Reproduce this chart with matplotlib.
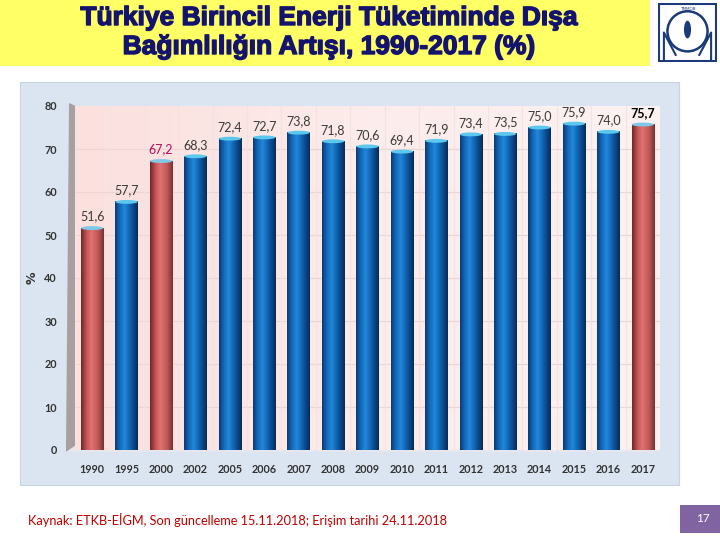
import numpy as np
import matplotlib.pyplot as plt
import matplotlib.patheffects as pe
from matplotlib.patches import Ellipse, Rectangle, Polygon, Circle
from matplotlib.colors import LinearSegmentedColormap

# data
years = ['1990', '1995', '2000', '2002', '2005', '2006', '2007', '2008', '2009',
         '2010', '2011', '2012', '2013', '2014', '2015', '2016', '2017']
values = [51.6, 57.7, 67.2, 68.3, 72.4, 72.7, 73.8, 71.8, 70.6, 69.4, 71.9,
          73.4, 73.5, 75.0, 75.9, 74.0, 75.7]
red_years = ['1990', '2000', '2017']
yticks = [0, 10, 20, 30, 40, 50, 60, 70, 80]

title = 'Türkiye Birincil Enerji Tüketiminde Dışa\nBağımlılığın Artışı, 1990-2017 (%)'
source = 'Kaynak: ETKB-EİGM, Son güncelleme 15.11.2018; Erişim tarihi 24.11.2018'
page = '17'

W, H = 720, 540


def fx(px):
    return px / W


def fy(py):
    return 1 - py / H


blue_cmap = LinearSegmentedColormap.from_list(
    'cyl_blue', [(0, '#0a3a74'), (0.2, '#1468b8'), (0.42, '#2088da'),
                 (0.7, '#0f5aa6'), (1, '#072c58')])
red_cmap = LinearSegmentedColormap.from_list(
    'cyl_red', [(0, '#6e2828'), (0.25, '#c85656'), (0.45, '#e07272'),
                (0.75, '#c05858'), (1, '#7a3030')])

fig = plt.figure(figsize=(7.2, 5.4), dpi=100)
fig.patch.set_facecolor('white')

# yellow title band
fig.patches.append(Rectangle((0, fy(66)), fx(650), 66 / H, transform=fig.transFigure,
                             facecolor='#ffff66', edgecolor='none', zorder=0))
for k, line in enumerate(title.split('\n')):
    fig.text(fx(329), fy(18 + 29 * k), line, ha='center', va='center', fontsize=19,
             fontweight='bold', color='#14146e', family='Liberation Sans',
             path_effects=[pe.withStroke(linewidth=1.0, foreground='#14146e')])

# chart panel
fig.patches.append(Rectangle((fx(20), fy(485)), fx(659), 403 / H, transform=fig.transFigure,
                             facecolor='#dbe5f1', edgecolor='#c8d4e4', lw=0.8, zorder=0))

# side wall of the 3D chart
fig.patches.append(Polygon([(fx(69), fy(103)), (fx(80), fy(108)), (fx(78), fy(444)),
                            (fx(66), fy(452))], closed=True, transform=fig.transFigure,
                           facecolor='#a8a0a0', edgecolor='none', zorder=1))

ax = fig.add_axes([fx(75), fy(450), fx(585), (450 - 106) / H])
ax.set_zorder(2)

n = len(years)
x = np.arange(n)
bw = 0.65

# pink back wall
wall = np.linspace(0, 1, 100).reshape(1, -1)
wall_cmap = LinearSegmentedColormap.from_list('wall', ['#fbe0de', '#fdeceb', '#fcf2f2'])
ax.imshow(wall, extent=[-0.5, n - 0.5, 0, 80], aspect='auto', cmap=wall_cmap, zorder=0)

for t in yticks[1:-1]:
    ax.axhline(t, color='#ecd6d4', lw=0.9, zorder=1)
for i in range(n):
    ax.axvline(i - 0.5, color='#f4e2e0', lw=0.8, zorder=1)

grad = np.linspace(0, 1, 64).reshape(1, -1)
for i, (yr, v) in enumerate(zip(years, values)):
    is_red = yr in red_years
    cmap = red_cmap if is_red else blue_cmap
    ax.imshow(grad, extent=[i - bw / 2, i + bw / 2, 0, v], aspect='auto',
              cmap=cmap, zorder=3)
    ax.add_patch(Ellipse((i, v), bw, 0.9, facecolor='#5cc8ee' if not is_red else '#7ec8e8',
                         edgecolor='none', zorder=4))
    ax.add_patch(Ellipse((i, 0), bw, 0.9, facecolor=cmap(0.5), edgecolor='none', zorder=2))
    if yr == '2000':
        col, fw = '#b0105a', 'normal'
    elif yr == '2017':
        col, fw = 'black', 'bold'
    else:
        col, fw = '#3a3a3a', 'normal'
    ax.text(i, v + 1.3, f'{v:.1f}'.replace('.', ','), ha='center', va='bottom',
            fontsize=9, color=col, fontweight=fw, family='Lato', zorder=5)

ax.set_xlim(-0.5, n - 0.5)
ax.set_ylim(0, 80)
ax.set_xticks(x)
ax.set_xticklabels(years, fontsize=7.8, fontweight='bold', color='#333333', family='Lato')
ax.set_yticks(yticks)
ax.set_yticklabels([str(t) for t in yticks], fontsize=7.8, fontweight='bold',
                   color='#333333', family='Lato')
ax.tick_params(axis='x', length=0, pad=10)
ax.tick_params(axis='y', length=0, pad=13)
for s in ax.spines.values():
    s.set_visible(False)
ax.set_ylabel('%', fontsize=9, fontweight='bold', color='#333333', labelpad=4)

# floor line
fig.patches.append(Polygon([(fx(66), fy(452)), (fx(78), fy(444)), (fx(662), fy(444)),
                            (fx(660), fy(452))], closed=True, transform=fig.transFigure,
                           facecolor='#e6e6ee', edgecolor='none', zorder=1))

# logo
lax = fig.add_axes([fx(658), fy(62), fx(59), 59 / H])
lax.set_xlim(0, 1)
lax.set_ylim(0, 1)
lax.axis('off')
lax.add_patch(Rectangle((0.02, 0.02), 0.96, 0.96, facecolor='white', edgecolor='#1a3a7a', lw=1.5))
lax.add_patch(Circle((0.5, 0.52), 0.34, facecolor='none', edgecolor='#1a3a7a', lw=1.8))
lax.add_patch(Ellipse((0.5, 0.55), 0.12, 0.3, facecolor='#1a3a7a', edgecolor='none'))
lax.plot([0.1, 0.1, 0.3], [0.05, 0.5, 0.12], color='#1a3a7a', lw=1.5)
lax.plot([0.9, 0.9, 0.7], [0.05, 0.5, 0.12], color='#1a3a7a', lw=1.5)
lax.text(0.5, 0.9, 'TMMOB', ha='center', va='center', fontsize=3, color='#1a3a7a')

# footer
fig.text(fx(28), fy(520), source, ha='left', va='center', fontsize=9.2,
         color='#c00000', family='Lato')
fig.patches.append(Rectangle((fx(680), fy(533)), fx(40), 28 / H, transform=fig.transFigure,
                             facecolor='#8064a2', edgecolor='none', zorder=0))
fig.text(fx(703), fy(519), page, ha='center', va='center', fontsize=8.5,
         color='white', family='Lato')

fig.savefig('out.png', dpi=100)
